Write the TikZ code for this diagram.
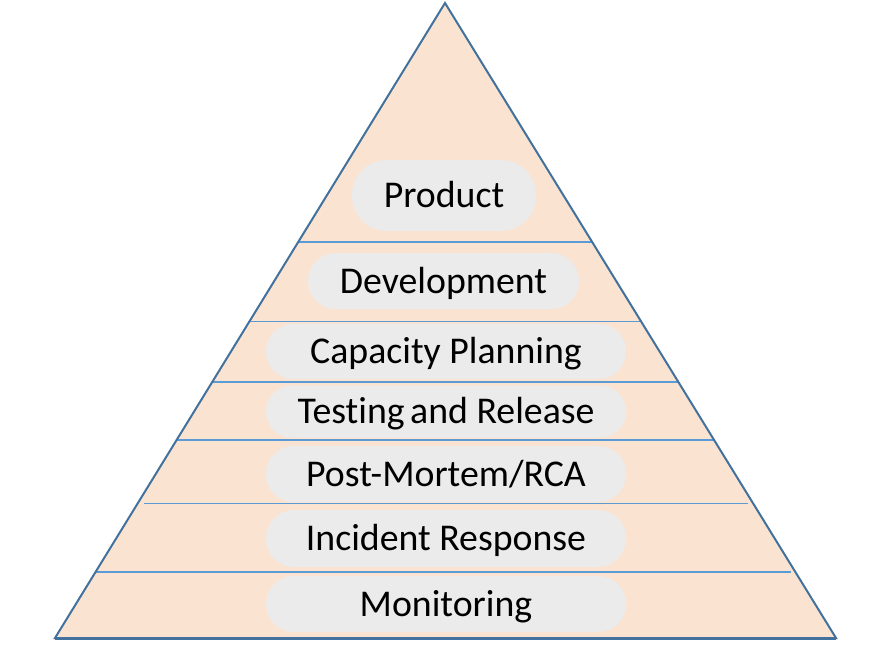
\documentclass[tikz,border=0pt]{standalone}
\usepackage{fontspec}
\setmainfont{Carlito}[Ligatures={NoCommon,NoContextual,NoRequired}]
\definecolor{peach}{HTML}{FBE3D1}
\definecolor{edgeblue}{HTML}{41719C}
\definecolor{tierblue}{HTML}{5B9BD5}
\definecolor{pillgray}{HTML}{EBEBEB}
\begin{document}
\begin{tikzpicture}[x=1pt,y=-1pt,
  tier/.style={draw=tierblue, line width=1.3pt},
  pill/.style={fill=pillgray, draw=none, inner sep=0pt, text height=24.5pt, text depth=0pt,
    font=\fontsize{37.8}{44}\selectfont, text=black},
  outline/.style={draw=edgeblue, line width=2pt, line join=miter}]
\useasboundingbox (0,0) rectangle (890,650);
\coordinate (apex) at (445,3);
\coordinate (bl) at (55,638);
\coordinate (br) at (836,638);
\fill[peach] (apex) -- (br) -- (bl) -- cycle;
% tier lines
\draw[tier] (297.8,242) -- (592.2,242);
\draw[tier] (248.9,321.5) -- (641.1,321.5);
\draw[tier] (211.6,382) -- (678.4,382);
\draw[tier] (175.9,440) -- (714.1,440);
\draw[tier] (144,503.5) -- (748,503.5);
\draw[tier] (96,572) -- (791,572);
% pills
\node[pill, minimum width=184pt, minimum height=71pt, rounded corners=35pt] (product) at (444,195.5) {Product};
\node[pill, minimum width=271pt, minimum height=56pt, rounded corners=27.5pt] (dev) at (443.5,281) {Development};
\node[pill, minimum width=360pt, minimum height=55pt, rounded corners=27pt] (cap) at (446,351.5) {Capacity Planning};
\node[pill, minimum width=360pt, minimum height=52pt, rounded corners=25.5pt] (test) at (446,411.5) {Test\kern0pting\kern-3pt{} and Release};
\node[pill, minimum width=360pt, minimum height=56pt, rounded corners=27.5pt] (pm) at (446,474) {Post-Mortem/RCA};
\node[pill, minimum width=360pt, minimum height=57pt, rounded corners=28pt] (inc) at (446,538.5) {Incident Response};
\node[pill, minimum width=360pt, minimum height=56pt, rounded corners=27.5pt] (mon) at (446,604) {Monitoring};
% outline
\draw[outline] (apex) -- (br) -- (bl) -- cycle;
\draw[draw=edgeblue, line width=3pt] (bl) -- (br);
\end{tikzpicture}
\end{document}
